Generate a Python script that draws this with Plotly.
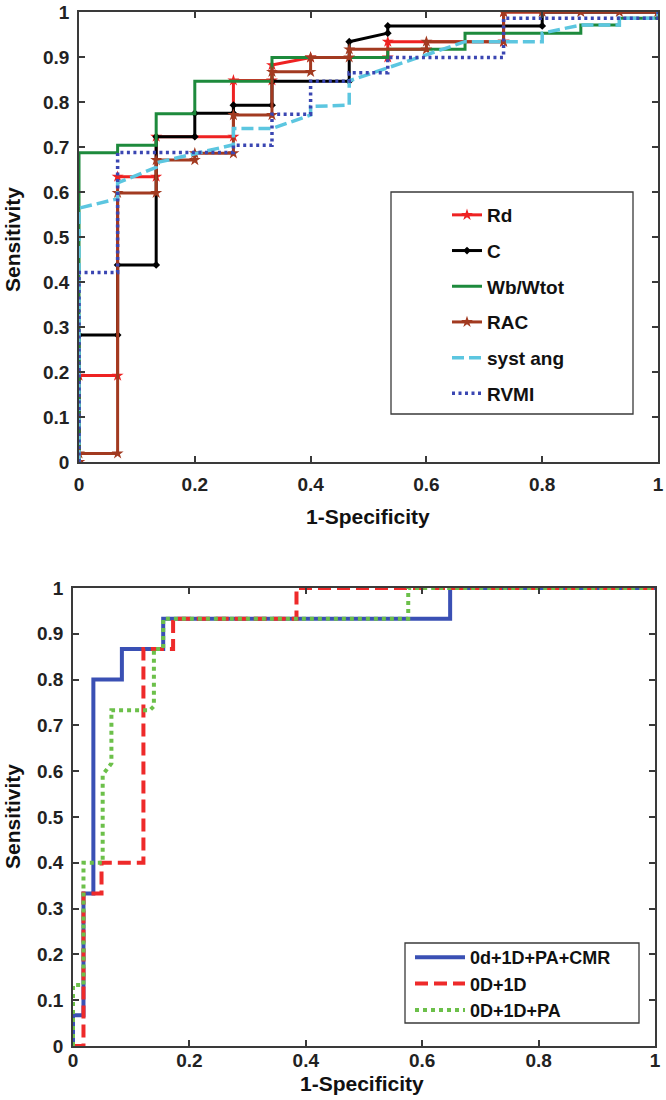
import plotly.graph_objects as go

# ---------------- Top chart data (ROC vertices) ----------------
rd_x = [0, 0, 0.0667, 0.0667, 0.1333, 0.1333, 0.2667, 0.2667, 0.3333, 0.3333, 0.4, 0.5333, 0.5333, 0.7333, 0.7333, 1.0]
rd_y = [0, 0.192, 0.192, 0.634, 0.634, 0.723, 0.723, 0.848, 0.848, 0.882, 0.899, 0.899, 0.934, 0.934, 1.0, 1.0]

c_x = [0, 0, 0.0667, 0.0667, 0.1333, 0.1333, 0.2, 0.2, 0.2667, 0.2667, 0.3333, 0.3333, 0.4667, 0.4667, 0.5333, 0.5333, 0.8, 0.8, 1.0]
c_y = [0, 0.282, 0.282, 0.438, 0.438, 0.723, 0.723, 0.775, 0.775, 0.793, 0.793, 0.846, 0.846, 0.934, 0.953, 0.969, 0.969, 1.0, 1.0]

wb_x = [0, 0, 0.0667, 0.0667, 0.1333, 0.1333, 0.2, 0.2, 0.3333, 0.3333, 0.5333, 0.5333, 0.6667, 0.6667, 0.8667, 0.8667, 0.9333, 0.9333, 1.0, 1.0]
wb_y = [0, 0.687, 0.687, 0.704, 0.704, 0.774, 0.774, 0.846, 0.846, 0.899, 0.899, 0.917, 0.917, 0.953, 0.953, 0.971, 0.971, 0.986, 0.986, 1.0]

rac_x = [0, 0, 0.0667, 0.0667, 0.1333, 0.1333, 0.2, 0.2, 0.2667, 0.2667, 0.3333, 0.3333, 0.4, 0.4, 0.4667, 0.4667, 0.6, 0.6, 0.7333, 0.7333, 0.8, 0.8667, 0.9333, 1.0]
rac_y = [0, 0.019, 0.019, 0.598, 0.598, 0.671, 0.671, 0.686, 0.686, 0.771, 0.771, 0.867, 0.867, 0.899, 0.899, 0.917, 0.917, 0.934, 0.934, 1.0, 1.0, 1.0, 1.0, 1.0]

sa_x = [0, 0, 0.0667, 0.0667, 0.1333, 0.1333, 0.2, 0.2667, 0.2667, 0.3333, 0.4, 0.4, 0.4667, 0.4667, 0.6667, 0.8, 0.8, 0.8667, 0.9333, 0.9333, 1.0, 1.0]
sa_y = [0, 0.564, 0.585, 0.62, 0.655, 0.665, 0.685, 0.705, 0.741, 0.741, 0.771, 0.79, 0.793, 0.847, 0.934, 0.934, 0.953, 0.971, 0.971, 0.986, 0.986, 1.0]

rv_x = [0, 0, 0.0667, 0.0667, 0.2667, 0.2667, 0.3333, 0.3333, 0.4, 0.4, 0.4667, 0.4667, 0.5333, 0.5333, 0.7333, 0.7333, 1.0, 1.0]
rv_y = [0, 0.421, 0.421, 0.688, 0.688, 0.704, 0.704, 0.773, 0.773, 0.846, 0.846, 0.865, 0.865, 0.899, 0.899, 0.986, 0.986, 1.0]

# ---------------- Bottom chart data ----------------
cmr_x = [0, 0, 0.018, 0.018, 0.035, 0.035, 0.084, 0.084, 0.155, 0.155, 0.648, 0.648, 1.0]
cmr_y = [0, 0.067, 0.067, 0.333, 0.333, 0.8, 0.8, 0.867, 0.867, 0.933, 0.933, 1.0, 1.0]

d1_x = [0, 0.018, 0.018, 0.049, 0.049, 0.121, 0.121, 0.172, 0.172, 0.384, 0.384, 1.0]
d1_y = [0, 0, 0.333, 0.333, 0.4, 0.4, 0.867, 0.867, 0.933, 0.933, 1.0, 1.0]

pa_x = [0, 0, 0.018, 0.018, 0.051, 0.051, 0.066, 0.066, 0.132, 0.139, 0.139, 0.155, 0.155, 0.576, 0.576, 1.0]
pa_y = [0, 0.133, 0.133, 0.4, 0.4, 0.592, 0.617, 0.733, 0.733, 0.742, 0.867, 0.867, 0.933, 0.933, 1.0, 1.0]

W, H = 666, 1100
FONT = "Liberation Sans, Arial, sans-serif"

fig = go.Figure()

def add(x, y, name, color, width, dash="solid", symbol=None, msize=7, legend="legend"):
    mode = "lines+markers" if symbol else "lines"
    kw = dict(x=x, y=y, name=name, mode=mode,
              line=dict(color=color, width=width, dash=dash),
              legendgroup=name)
    if symbol:
        kw["marker"] = dict(symbol=symbol, size=msize, color=color)
    if legend == "legend":
        kw.update(xaxis="x", yaxis="y", legend="legend")
    else:
        kw.update(xaxis="x2", yaxis="y2", legend="legend2")
    fig.add_trace(go.Scatter(**kw))

add(rd_x, rd_y, "Rd", "#ee2222", 3, symbol="star", msize=9)
add(c_x, c_y, "C", "#000000", 3, symbol="diamond", msize=6)
add(wb_x, wb_y, "Wb/Wtot", "#1d8a3c", 3)
add(rac_x, rac_y, "RAC", "#a23a20", 3, symbol="star", msize=9)
add(sa_x, sa_y, "syst ang", "#5cc6e0", 3.5, dash="12px,5px")
add(rv_x, rv_y, "RVMI", "#3a46b2", 3.5, dash="3px,3.5px")

add(cmr_x, cmr_y, "0d+1D+PA+CMR", "#3a50b4", 4, legend="legend2")
add(d1_x, d1_y, "0D+1D", "#ee2a2a", 4, dash="13px,6px", legend="legend2")
add(pa_x, pa_y, "0D+1D+PA", "#6cc04a", 4, dash="4px,4px", legend="legend2")

axis_common = dict(range=[0, 1], showgrid=False, zeroline=False, showline=True,
                   linecolor="#3a3a3a", linewidth=1.5, mirror="allticks",
                   ticks="inside", ticklen=6, tickwidth=1.5, tickcolor="#3a3a3a",
                   tickfont=dict(family=FONT, size=19, color="#222", weight="bold"),
                   fixedrange=True, automargin=False)

fig.update_layout(
    width=W, height=H,
    margin=dict(l=0, r=0, t=0, b=0, pad=0, autoexpand=False),
    paper_bgcolor="white", plot_bgcolor="white",
    xaxis=dict(axis_common, domain=[79 / W, 658 / W], dtick=0.2, tick0=0, anchor="y",
               ticklabelstandoff=4),
    yaxis=dict(axis_common, domain=[1 - 462 / H, 1 - 12 / H], dtick=0.1, tick0=0, anchor="x",
               ticklabelstandoff=4),
    xaxis2=dict(axis_common, domain=[73 / W, 655 / W], dtick=0.2, tick0=0, anchor="y2",
                ticklabelstandoff=-4),
    yaxis2=dict(axis_common, domain=[1 - 1046 / H, 1 - 588 / H], dtick=0.1, tick0=0, anchor="x2",
                ticklabelstandoff=4),
    legend=dict(x=447 / W, y=1 - 196 / H, xanchor="left", yanchor="top",
                bgcolor="rgba(0,0,0,0)", borderwidth=0, itemwidth=30,
                tracegroupgap=8,
                font=dict(family=FONT, size=19, color="#111", weight="bold")),
    legend2=dict(x=410 / W, y=1 - 939 / H, xanchor="left", yanchor="top",
                 bgcolor="rgba(0,0,0,0)", borderwidth=0, itemwidth=50,
                 tracegroupgap=0,
                 font=dict(family=FONT, size=18, color="#111", weight="bold")),
    showlegend=True,
)

# legend frames
fig.add_shape(type="rect", xref="paper", yref="paper",
              x0=391 / W, x1=633 / W, y0=1 - 414 / H, y1=1 - 192 / H,
              line=dict(color="#3a3a3a", width=1.3), fillcolor="rgba(0,0,0,0)", layer="above")
fig.add_shape(type="rect", xref="paper", yref="paper",
              x0=405 / W, x1=639 / W, y0=1 - 1023 / H, y1=1 - 943 / H,
              line=dict(color="#3a3a3a", width=1.3), fillcolor="rgba(0,0,0,0)", layer="above")

title_font = dict(family=FONT, size=21, color="#111", weight="bold")
ann = [
    dict(text="Sensitivity", x=13 / W, y=1 - 240 / H, textangle=-90),
    dict(text="1-Specificity", x=368 / W, y=1 - 516 / H, textangle=0),
    dict(text="Sensitivity", x=12 / W, y=1 - 817 / H, textangle=-90),
    dict(text="1-Specificity", x=362 / W, y=1 - 1083 / H, textangle=0),
]
for a in ann:
    fig.add_annotation(xref="paper", yref="paper", showarrow=False,
                       xanchor="center", yanchor="middle", font=title_font, **a)

fig.write_html("out.html", config={"displayModeBar": False},
               post_script="document.body.style.margin='0px';")
